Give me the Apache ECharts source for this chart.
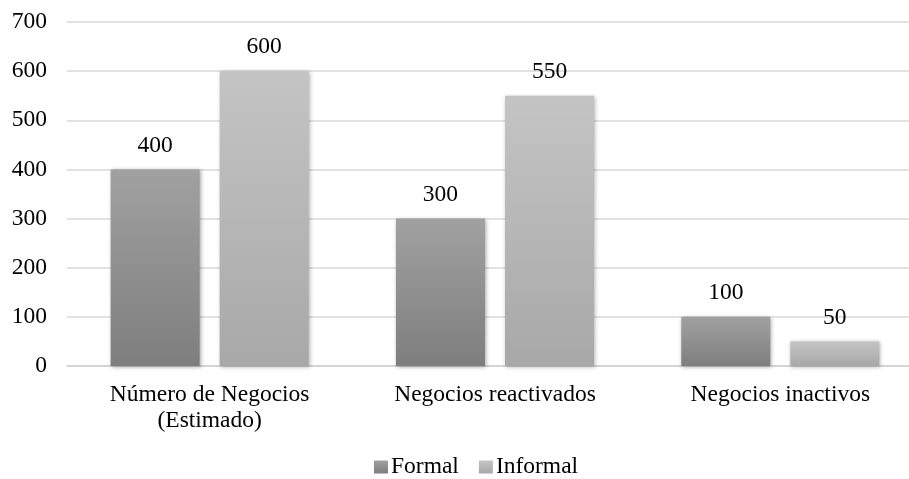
<!DOCTYPE html>
<html><head><meta charset="utf-8">
<script src="https://cdn.jsdelivr.net/npm/echarts@6/dist/echarts.min.js"></script>
<style>html,body{margin:0;padding:0;background:#fff;overflow:hidden}#c{width:923px;height:479px}</style>
</head><body><div id="c"></div>
<script>
const categories = ['Número de Negocios\n(Estimado)', 'Negocios reactivados', 'Negocios inactivos'];
const formal = [400, 300, 100];
const informal = [600, 550, 50];
const seriesNames = ['Formal', 'Informal'];
const yTicks = [0, 100, 200, 300, 400, 500, 600, 700];

const font = '"Liberation Serif", "Times New Roman", serif';
const fs = 23.5;
function grad(a, b) {
  return new echarts.graphic.LinearGradient(0, 0, 0, 1, [{offset: 0, color: a}, {offset: 1, color: b}]);
}
const chart = echarts.init(document.getElementById('c'));
chart.setOption({
  animation: false,
  textStyle: {fontFamily: font},
  grid: {left: 67, top: 22, right: 0, height: 344, containLabel: false},
  legend: {
    top: 455, left: 374, itemWidth: 14, itemHeight: 13, itemGap: 20, padding: 0,
    icon: 'rect',
    textStyle: {fontFamily: font, fontSize: fs, color: '#000', padding: [0, 0, 0, -2]},
    data: seriesNames
  },
  xAxis: {
    type: 'category', data: categories,
    axisLine: {lineStyle: {color: '#d0d0d0', width: 1.5}},
    axisTick: {show: false},
    axisLabel: {fontFamily: font, fontSize: fs, color: '#000', margin: 16, lineHeight: 26}
  },
  yAxis: {
    type: 'value', min: 0, max: 700, interval: 100,
    axisLine: {show: false}, axisTick: {show: false},
    splitLine: {lineStyle: {color: '#d9d9d9', width: 1.5}},
    axisLabel: {fontFamily: font, fontSize: fs, color: '#000', margin: 20,
      formatter: v => yTicks.includes(v) ? String(v) : ''}
  },
  series: [
    {name: seriesNames[0], type: 'bar', data: formal, barWidth: 89, barGap: '22.5%',
     itemStyle: {color: grad('#a1a1a1', '#7e7e7e'), shadowColor: 'rgba(0,0,0,0.35)', shadowBlur: 4, shadowOffsetX: 1, shadowOffsetY: 1},
     label: {show: true, position: 'top', distance: 12, fontFamily: font, fontSize: fs, color: '#000'}},
    {name: seriesNames[1], type: 'bar', data: informal, barWidth: 89,
     itemStyle: {color: grad('#c4c4c4', '#a8a8a8'), shadowColor: 'rgba(0,0,0,0.3)', shadowBlur: 4, shadowOffsetX: 1, shadowOffsetY: 1},
     label: {show: true, position: 'top', distance: 12, fontFamily: font, fontSize: fs, color: '#000'}}
  ]
});
</script></body></html>
